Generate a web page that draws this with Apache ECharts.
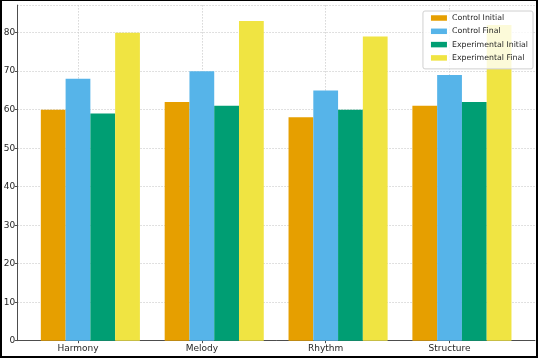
<!DOCTYPE html>
<html>
<head>
<meta charset="utf-8">
<script src="https://cdn.jsdelivr.net/npm/echarts@6/dist/echarts.min.js"></script>
<style>
  html, body { margin: 0; padding: 0; background: #fff; }
  #wrap { position: relative; width: 538px; height: 358px; }
  #chart { position: absolute; left: 0; top: 0; width: 538px; height: 358px; }
  #frame { position: absolute; left: 0; top: 0; width: 538px; height: 358px; box-sizing: border-box; border: 2px solid #000; border-top-width: 1px; pointer-events: none; }
</style>
</head>
<body>
<div id="wrap"><div id="chart"></div><div id="frame"></div></div>
<script>
const categories = ['Harmony', 'Melody', 'Rhythm', 'Structure'];
const seriesNames = ['Control Initial', 'Control Final', 'Experimental Initial', 'Experimental Final'];
const controlInitial = [60, 62, 58, 61];
const controlFinal = [68, 70, 65, 69];
const experimentalInitial = [59, 61, 60, 62];
const experimentalFinal = [80, 83, 79, 82];
const yTicks = [0, 10, 20, 30, 40, 50, 60, 70, 80];

const colors = ['#E69F00', '#56B4E9', '#009E73', '#F0E442'];
const values = [controlInitial, controlFinal, experimentalInitial, experimentalFinal];
const barUnit = 0.2;
const tickPositions = categories.map((c, i) => i);

const chart = echarts.init(document.getElementById('chart'), null, { renderer: 'canvas' });
const textColor = '#262626';
const font = 'DejaVu Sans';
const gridLine = { show: true, lineStyle: { color: '#cccccc', width: 0.8, type: [1.5, 1.5] } };

chart.setOption({
  animation: false,
  backgroundColor: '#fff',
  grid: { left: 17.3, right: 3, top: 5.1, bottom: 17.3, containLabel: false },
  legend: {
    data: seriesNames,
    orient: 'vertical',
    right: 5,
    top: 11,
    itemWidth: 16,
    itemHeight: 5.5,
    itemGap: 3.3,
    padding: [2, 5, 6, 8],
    backgroundColor: 'rgba(255,255,255,0.8)',
    borderColor: '#d0d0d0',
    borderWidth: 1,
    borderRadius: 2,
    icon: 'rect',
    textStyle: { fontFamily: font, fontSize: 7.8, color: textColor, lineHeight: 10 }
  },
  xAxis: {
    type: 'value',
    min: -0.49,
    max: 3.69,
    axisLine: { show: true, onZero: false, lineStyle: { color: '#4d4d4d', width: 1 } },
    axisTick: { show: true, length: 2.5, customValues: tickPositions, lineStyle: { color: '#4d4d4d' } },
    axisLabel: {
      customValues: tickPositions,
      fontFamily: font, fontSize: 9, color: textColor, margin: 3.5,
      formatter: v => categories[Math.round(v)] || ''
    },
    splitLine: gridLine
  },
  yAxis: {
    type: 'value',
    min: 0,
    max: 87.15,
    interval: 10,
    axisLine: { show: true, onZero: false, lineStyle: { color: '#4d4d4d', width: 1 } },
    axisTick: { show: true, length: 2.5, lineStyle: { color: '#4d4d4d' } },
    axisLabel: {
      fontFamily: font, fontSize: 9, color: textColor, margin: 2,
      showMaxLabel: false,
      formatter: v => (yTicks.indexOf(v) >= 0 ? String(v) : '')
    },
    splitLine: gridLine
  },
  series: seriesNames.map((name, s) => ({
    name: name,
    type: 'bar',
    barWidth: '100%',
    barGap: '-100%',
    itemStyle: { color: colors[s] },
    z: 2,
    data: values[s].map((v, i) => [i + (s - 1) * barUnit, v])
  }))
});
</script>
</body>
</html>
